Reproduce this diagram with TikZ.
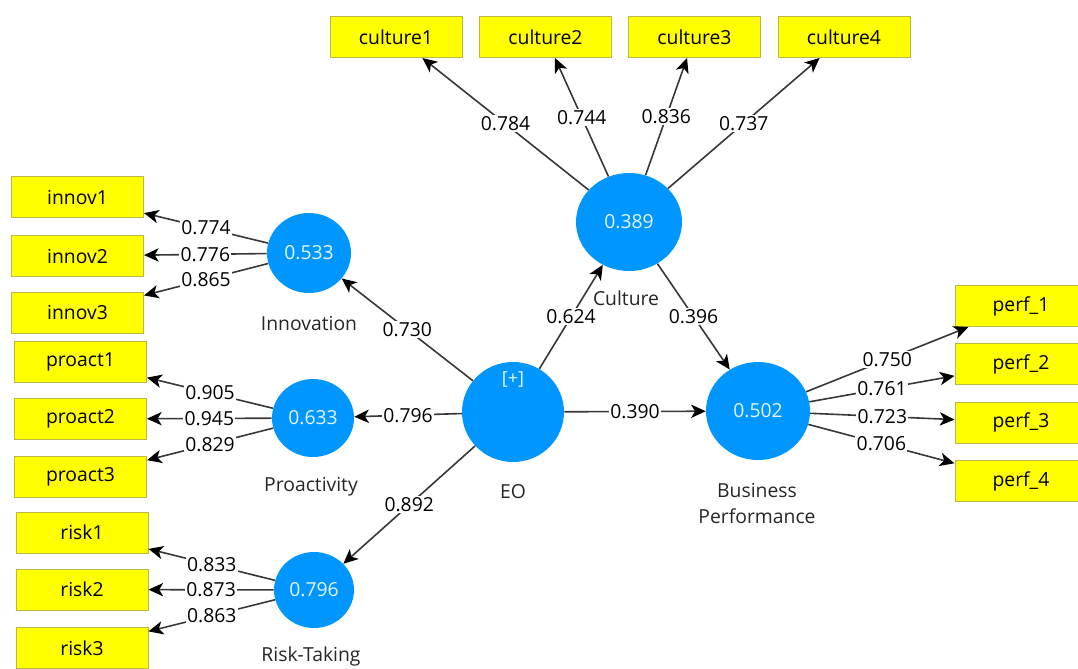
\documentclass[tikz,border=0pt]{standalone}
\usepackage{fontspec}
\setmainfont{Open Sans}
\usetikzlibrary{arrows.meta}
\usetikzlibrary{shapes.geometric}
\definecolor{lvblue}{RGB}{0,150,255}
\definecolor{mvyellow}{RGB}{255,255,0}
\definecolor{mvborder}{RGB}{185,185,70}
\definecolor{edgegray}{RGB}{55,55,55}

\begin{document}
\begin{tikzpicture}[x=0.75pt,y=0.75pt,yscale=-1,xscale=1,
  font=\fontsize{14.5pt}{17pt}\selectfont,
  indicator/.style={draw=mvborder,fill=mvyellow,line width=0.75,minimum width=99pt,minimum height=30.75pt,inner sep=0pt},
  latent/.style={ellipse,fill=lvblue,text=white!90!lvblue,inner sep=0pt},
  coef/.style={fill=white,inner sep=1pt,text=black},
  lvname/.style={text=black!85,align=center,inner sep=0pt},
  arc/.style={draw=edgegray,line width=1.2pt,-{Stealth[length=11pt,width=10pt,inset=3pt,color=black]}}]
%set diagram frame: 1078 x 668
\useasboundingbox (0,0) rectangle (1078,668);

%Shape: Latent variables
\node [latent,minimum width=63pt,minimum height=60pt] (innov) at (309,253) {0.533};
\node [latent,minimum width=61.5pt,minimum height=58.5pt] (proact) at (313,418) {0.633};
\node [latent,minimum width=60pt,minimum height=57pt] (risk) at (314,590) {0.796};
\node [latent,minimum width=76.5pt,minimum height=75pt] (eo) at (513,412) {};
\node [latent,minimum width=79.5pt,minimum height=73.5pt] (culture) at (629,222) {0.389};
\node [latent,minimum width=78pt,minimum height=73.5pt] (bp) at (758,411) {0.502};

%Shape: Indicators
\node [indicator] (cult1) at (396,37) {culture1};
\node [indicator] (cult2) at (545.5,37) {culture2};
\node [indicator] (cult3) at (694.5,37) {culture3};
\node [indicator] (cult4) at (844,37) {culture4};
\node [indicator] (inn1) at (77.5,197) {innov1};
\node [indicator] (inn2) at (77.5,256) {innov2};
\node [indicator] (inn3) at (77.5,312.5) {innov3};
\node [indicator] (pro1) at (80.5,361.5) {proact1};
\node [indicator] (pro2) at (80.5,419) {proact2};
\node [indicator] (pro3) at (80.5,477) {proact3};
\node [indicator] (rsk1) at (82,532.5) {risk1};
\node [indicator] (rsk2) at (82,589.5) {risk2};
\node [indicator] (rsk3) at (82,648) {risk3};
\node [indicator] (perf1) at (1021,306) {perf\_1};
\node [indicator] (perf2) at (1021,364) {perf\_2};
\node [indicator] (perf3) at (1021,422.5) {perf\_3};
\node [indicator] (perf4) at (1021,481) {perf\_4};

%Straight Lines: outer loadings
\draw [arc] (culture) -- node [coef] {0.784} (cult1);
\draw [arc] (culture) -- node [coef] {0.744} (cult2);
\draw [arc] (culture) -- node [coef] {0.836} (cult3);
\draw [arc] (culture) -- node [coef] {0.737} (cult4);
\draw [arc] (innov) -- node [coef] {0.774} (inn1);
\draw [arc] (innov) -- node [coef] {0.776} (inn2);
\draw [arc] (innov) -- node [coef] {0.865} (inn3);
\draw [arc] (proact) -- node [coef] {0.905} (pro1);
\draw [arc] (proact) -- node [coef] {0.945} (pro2);
\draw [arc] (proact) -- node [coef] {0.829} (pro3);
\draw [arc] (risk) -- node [coef] {0.833} (rsk1);
\draw [arc] (risk) -- node [coef] {0.873} (rsk2);
\draw [arc] (risk) -- node [coef] {0.863} (rsk3);
\draw [arc] (bp) -- node [coef] {0.750} (perf1);
\draw [arc] (bp) -- node [coef] {0.761} (perf2);
\draw [arc] (bp) -- node [coef] {0.723} (perf3);
\draw [arc] (bp) -- node [coef] {0.706} (perf4);

%Straight Lines: path coefficients
\draw [arc] (eo) -- node [coef] {0.730} (innov);
\draw [arc] (eo) -- node [coef] {0.796} (proact);
\draw [arc] (eo) -- node [coef] {0.892} (risk);
\draw [arc] (eo) -- node [coef] {0.624} (culture);
\draw [arc] (culture) -- node [coef] {0.396} (bp);
\draw [arc] (eo) -- node [coef] {0.390} (bp);

% Text Node
\node [text=white!90!lvblue,font=\fontsize{13.5pt}{16pt}\selectfont] (eoplus) at (513,379) {[+]};
% Text Node
\node [lvname] (innovname) at (309,323) {Innovation};
% Text Node
\node [lvname] (proactname) at (311,487) {Proactivity};
% Text Node
\node [lvname] (riskname) at (311,656) {Risk-Taking};
% Text Node
\node [lvname] (eoname) at (513,492) {EO};
% Text Node
\node [lvname] (culturename) at (626,298) {Culture};
% Text Node
\node [lvname,font=\fontsize{14.5pt}{19.5pt}\selectfont] (bpname) at (757,503) {Business\\Performance};

\end{tikzpicture}
\end{document}
